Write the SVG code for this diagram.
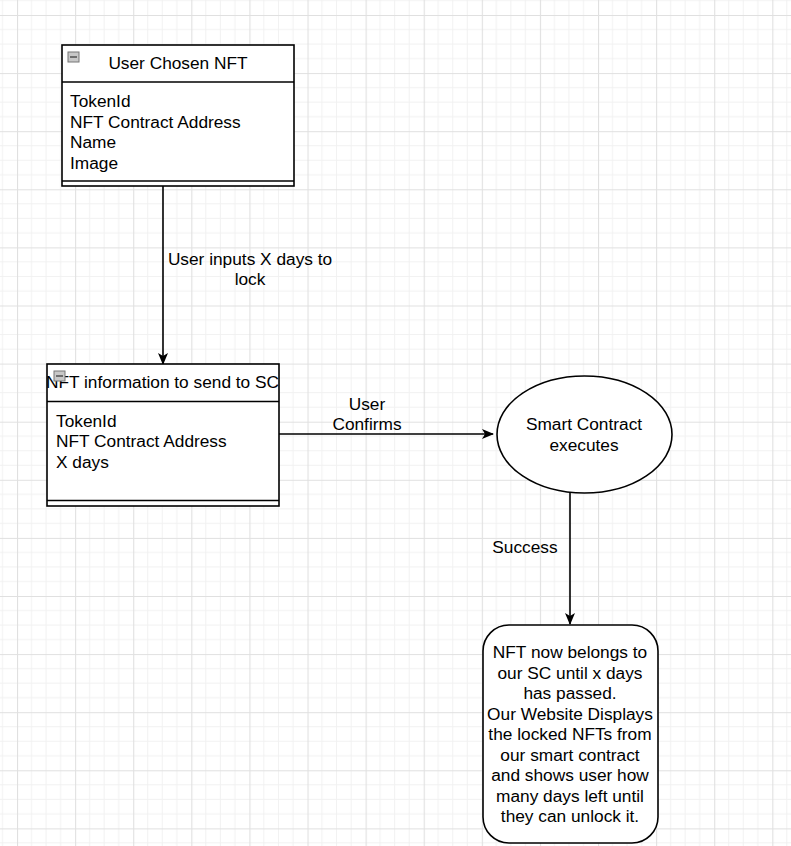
<svg xmlns="http://www.w3.org/2000/svg" width="791" height="846" viewBox="0 0 791 846">
<defs>
  <pattern id="grid" patternUnits="userSpaceOnUse" x="17" y="15" width="58.1" height="58.1">
    <path d="M14.525 0V58.1M29.05 0V58.1M43.575 0V58.1M0 14.525H58.1M0 29.05H58.1M0 43.575H58.1" stroke="#f1f1f1" stroke-width="1" fill="none"/>
    <path d="M0.5 0V58.1M0 0.5H58.1" stroke="#e0e0e0" stroke-width="1.2" fill="none"/>
  </pattern>
  <marker id="arr" viewBox="0 0 12 12" refX="11" refY="6" markerWidth="12" markerHeight="12" markerUnits="userSpaceOnUse" orient="auto">
    <path d="M0,1 L12,6 L0,11 L3,6 Z" fill="#000"/>
  </marker>
</defs>
<style>
  text { font-family: "Liberation Sans", Arial, Helvetica, sans-serif; font-size: 17.3px; fill: #000; }
  .c { text-anchor: middle; }
  .shape { fill: #fff; stroke: #000; stroke-width: 1.6; }
  .ln { stroke: #000; stroke-width: 1.6; fill: none; }
  .edge { stroke: #000; stroke-width: 1.6; fill: none; marker-end: url(#arr); }
  .icon { fill: #c8c8c8; stroke: #777; stroke-width: 1; }
  .icondash { stroke: #333; stroke-width: 1.2; }
</style>
<rect width="791" height="846" fill="#fff"/>
<rect width="791" height="846" fill="url(#grid)"/>

<g id="connectors">
  <path class="edge" d="M163 186 V364"/>
  <path class="edge" d="M279 434 H493"/>
  <path class="edge" d="M570 493 V624"/>
  <g id="label-lock">
    <text class="c" x="250" y="265">User inputs X days to</text>
    <text class="c" x="250" y="285">lock</text>
  </g>
  <g id="label-confirms">
    <text class="c" x="367" y="410">User</text>
    <text class="c" x="367" y="430">Confirms</text>
  </g>
  <g id="label-success">
    <text class="c" x="525" y="553">Success</text>
  </g>
</g>

<g id="user-chosen-nft">
  <rect class="shape" x="62" y="45" width="232" height="141"/>
  <line class="ln" x1="62" y1="82" x2="294" y2="82"/>
  <line class="ln" x1="62" y1="181" x2="294" y2="181"/>
  <text class="c" x="178" y="69">User Chosen NFT</text>
  <text x="70" y="107">TokenId</text>
  <text x="70" y="128">NFT Contract Address</text>
  <text x="70" y="148">Name</text>
  <text x="70" y="169">Image</text>
  <rect class="icon" x="68" y="52" width="11" height="10"/>
  <line class="icondash" x1="70" y1="57" x2="77" y2="57"/>
</g>

<g id="nft-info">
  <rect class="shape" x="47" y="364" width="232" height="142"/>
  <line class="ln" x1="47" y1="401.5" x2="279" y2="401.5"/>
  <line class="ln" x1="47" y1="500.5" x2="279" y2="500.5"/>
  <text class="c" x="162.5" y="388">NFT information to send to SC</text>
  <text x="56" y="427">TokenId</text>
  <text x="56" y="447">NFT Contract Address</text>
  <text x="56" y="468">X days</text>
  <rect class="icon" x="54" y="371" width="11" height="10"/>
  <line class="icondash" x1="56" y1="376" x2="63" y2="376"/>
</g>

<g id="smart-contract">
  <ellipse class="shape" cx="584.5" cy="434.5" rx="87.5" ry="58.5"/>
  <text class="c" x="584" y="430">Smart Contract</text>
  <text class="c" x="584" y="451">executes</text>
</g>

<g id="result">
  <rect class="shape" x="483" y="625" width="175" height="218" rx="26" ry="26"/>
  <text class="c" x="570" y="658">NFT now belongs to</text>
  <text class="c" x="570" y="678.5">our SC until x days</text>
  <text class="c" x="570" y="699">has passed.</text>
  <text class="c" x="570" y="719.5">Our Website Displays</text>
  <text class="c" x="570" y="740">the locked NFTs from</text>
  <text class="c" x="570" y="760.5">our smart contract</text>
  <text class="c" x="570" y="781">and shows user how</text>
  <text class="c" x="570" y="801.5">many days left until</text>
  <text class="c" x="570" y="822">they can unlock it.</text>
</g>
</svg>
